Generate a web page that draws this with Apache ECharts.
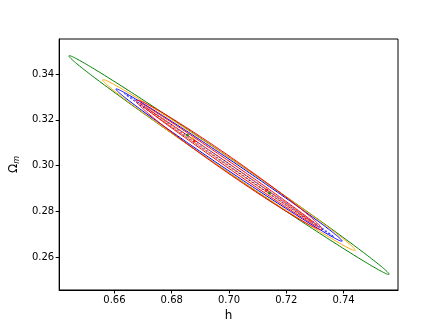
<!DOCTYPE html>
<html><head><meta charset="utf-8">
<script src="https://cdn.jsdelivr.net/npm/echarts@6/dist/echarts.min.js"></script>
<style>html,body{margin:0;padding:0;background:#fff}#c{width:443px;height:332px}</style>
</head><body><div id="c"></div>
<script>
// Contour ellipses (drawn in this order): centre, x half-extent (tip), y offset at tip, y half-width at centre
var ellNames   = ['green', 'orange', 'blue', 'blue dashed', 'orange dashed', 'red dashed', 'red inner', 'red outer'];
var ellColors  = ['#008000', '#FFA500', '#0000FF', '#0000FF', '#FFA500', '#FF0000', '#FF0000', '#FF0000'];
var ellDashed  = [false, false, false, true, true, true, false, false];
var ellCx      = [0.7000, 0.7000, 0.7000, 0.7000, 0.7000, 0.7000, 0.7000, 0.7000];
var ellCy      = [0.3002, 0.3002, 0.3002, 0.3002, 0.3002, 0.3003, 0.3003, 0.3003];
var ellTipDx   = [0.0559, 0.0441, 0.0395, 0.0365, 0.0300, 0.0290, 0.0312, 0.0324];
var ellTipDy   = [-0.0477, -0.0372, -0.0332, -0.0312, -0.0258, -0.0250, -0.0270, -0.0280];
var ellHalfW   = [0.0034, 0.0033, 0.0026, 0.0006, 0.0007, 0.0004, 0.0016, 0.0039];
// best-fit markers
var markX      = [0.6855, 0.6872, 0.6879, 0.7131, 0.7141];
var markY      = [0.3133, 0.3120, 0.3107, 0.2893, 0.2880];
var markColors = ['#008000', '#FFA500', '#FF0000', '#FF0000', '#008000'];
// axes
var xTicks = [0.66, 0.68, 0.70, 0.72, 0.74];
var yTicks = [0.26, 0.28, 0.30, 0.32, 0.34];
var xMin = 0.6407, xMax = 0.7590, yMin = 0.2456, yMax = 0.3553;

var chart = echarts.init(document.getElementById('c'), null, {renderer: 'canvas'});
var ellData = ellNames.map(function (n, i) { return [ellCx[i], ellCy[i], i]; });
var font = 'DejaVu Sans';
chart.setOption({
  animation: false,
  grid: {left: 55, right: 45, top: 39, bottom: 42, show: true, borderColor: '#000', borderWidth: 1, backgroundColor: 'transparent'},
  xAxis: {
    type: 'value', min: xMin, max: xMax,
    name: 'h', nameLocation: 'middle', nameGap: 19,
    nameTextStyle: {color: '#000', fontSize: 12, fontFamily: font},
    axisLine: {show: true, lineStyle: {color: '#000', width: 1}},
    axisTick: {show: true, inside: false, length: 3.5, lineStyle: {color: '#000'}, customValues: xTicks},
    axisLabel: {color: '#000', fontSize: 10, fontFamily: font, margin: 5, customValues: xTicks,
      formatter: function (v) { return v.toFixed(2); }},
    splitLine: {show: false}
  },
  yAxis: {
    type: 'value', min: yMin, max: yMax,
    name: 'Ω{s|m}', nameLocation: 'middle', nameGap: 33, nameRotate: 90,
    nameTextStyle: {color: '#000', fontSize: 12, fontFamily: font, rich: {s: {fontSize: 8, fontStyle: 'italic', verticalAlign: 'bottom', color: '#000', fontFamily: font, padding: [6, 0, 0, 0]}}},
    axisLine: {show: true, lineStyle: {color: '#000', width: 1}},
    axisTick: {show: true, inside: false, length: 3.5, lineStyle: {color: '#000'}, customValues: yTicks},
    axisLabel: {color: '#000', fontSize: 10, fontFamily: font, margin: 5, customValues: yTicks,
      formatter: function (v) { return v.toFixed(2); }},
    splitLine: {show: false}
  },
  series: [{
    type: 'custom',
    clip: true,
    data: ellData,
    renderItem: function (params, api) {
      var i = api.value(2);
      var pts = [];
      var N = 240;
      for (var k = 0; k <= N; k++) {
        var t = 2 * Math.PI * k / N;
        var x = ellCx[i] + ellTipDx[i] * Math.cos(t);
        var y = ellCy[i] + ellTipDy[i] * Math.cos(t) + ellHalfW[i] * Math.sin(t);
        pts.push(api.coord([x, y]));
      }
      return {
        type: 'polyline',
        shape: {points: pts},
        style: {stroke: ellColors[i], fill: null, lineWidth: 1, lineDash: ellDashed[i] ? [2, 2] : null}
      };
    }
  }, {
    type: 'scatter',
    symbolSize: 3,
    data: markX.map(function (x, i) { return {value: [x, markY[i]], itemStyle: {color: markColors[i]}}; })
  }]
});
</script></body></html>
